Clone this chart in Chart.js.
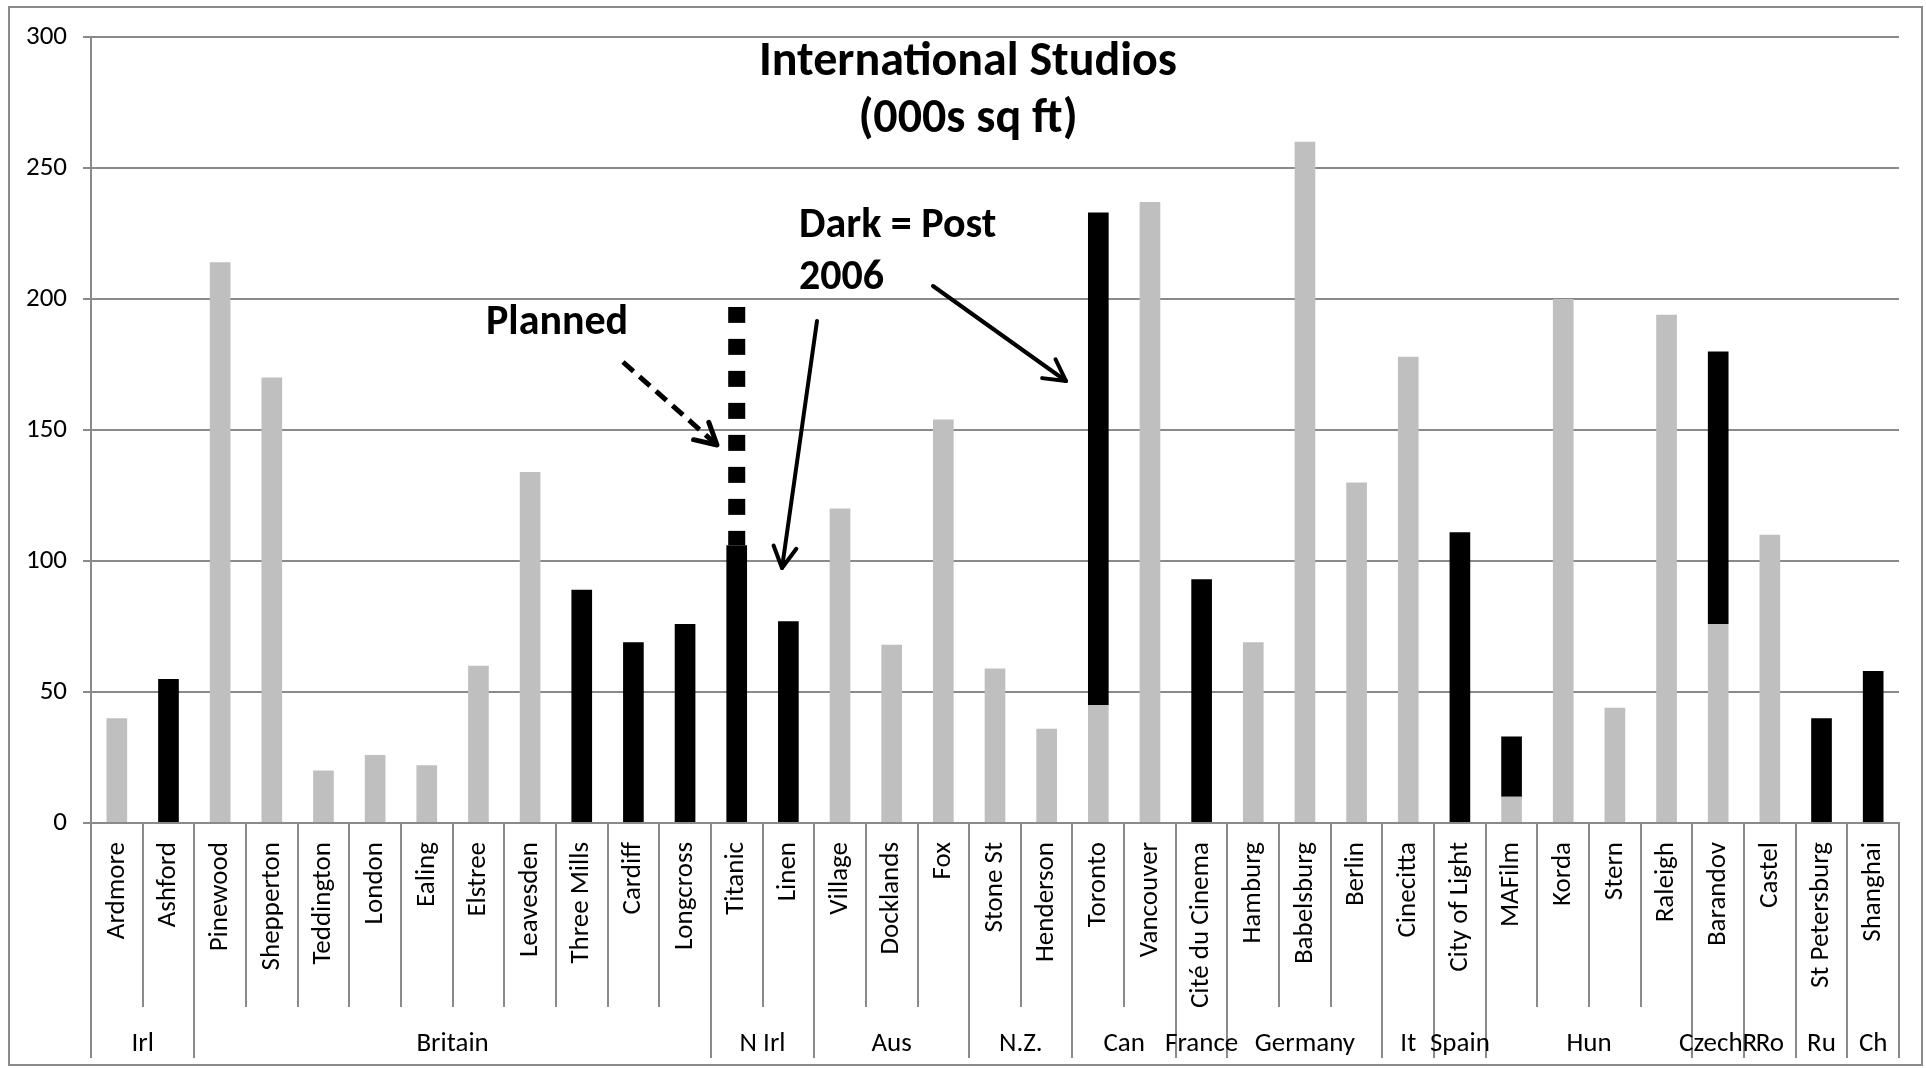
<!DOCTYPE html>
<html>
<head>
<meta charset="utf-8">
<script src="https://cdn.jsdelivr.net/npm/chart.js@4.4.1/dist/chart.umd.min.js"></script>
<style>
  html, body { margin: 0; padding: 0; background: #ffffff; }
  #wrap { position: relative; width: 1926px; height: 1068px; }
</style>
</head>
<body>
<div id="wrap"><canvas id="c" width="1926" height="1068"></canvas></div>
<script>
// ---------------- data ----------------
const categories = ["Ardmore","Ashford","Pinewood","Shepperton","Teddington","London","Ealing","Elstree","Leavesden","Three Mills","Cardiff","Longcross","Titanic","Linen","Village","Docklands","Fox","Stone St","Henderson","Toronto","Vancouver","Cité du Cinema","Hamburg","Babelsburg","Berlin","Cinecitta","City of Light","MAFilm","Korda","Stern","Raleigh","Barandov","Castel","St Petersburg","Shanghai"];
const groupNames = ["Irl","Britain","N Irl","Aus","N.Z.","Can","France","Germany","It","Spain","Hun","CzechR","Ro","Ru","Ch"];
const groupSizes = [2,10,2,3,2,2,1,3,1,1,4,1,1,1,1];
// grey = before 2006
const pre2006  = [40,null,214,170,20,26,22,60,134,null,null,null,null,null,120,68,154,59,36,45,237,null,69,260,130,178,null,10,200,44,194,76,110,null,null];
// dark = post 2006
const post2006 = [null,55,null,null,null,null,null,null,null,89,69,76,106,77,null,null,null,null,null,188,null,93,null,null,null,null,111,23,null,null,null,104,null,40,58];
// planned (dotted)
const planned  = [null,null,null,null,null,null,null,null,null,null,null,null,91,null,null,null,null,null,null,null,null,null,null,null,null,null,null,null,null,null,null,null,null,null,null];
const yTicks = [0,50,100,150,200,250,300];
const titleLines = ["International Studios","(000s sq ft)"];
const noteTexts = ["Planned","Dark = Post","2006"];

// ---------------- styling ----------------
const FONT = "Calibri, Carlito, Lato, sans-serif";
const GRID = "#8a8a8a";
const canvas = document.getElementById('c');
const ctx = canvas.getContext('2d');

const pc = document.createElement('canvas');
pc.width = 4; pc.height = 32;
const pctx = pc.getContext('2d');
pctx.fillStyle = '#000000';
pctx.fillRect(0, 0, 4, 16);
const plannedPattern = ctx.createPattern(pc, 'repeat');

function arrow(c, x1, y1, x2, y2, dashed) {
  c.save();
  c.strokeStyle = '#000';
  c.lineWidth = dashed ? 5 : 4;
  c.lineCap = dashed ? 'butt' : 'round';
  c.setLineDash(dashed ? [14, 8] : []);
  c.beginPath(); c.moveTo(x1, y1); c.lineTo(x2, y2); c.stroke();
  c.setLineDash([]);
  c.lineCap = 'round'; c.lineJoin = 'round';
  const a = Math.atan2(y2 - y1, x2 - x1);
  const L = 24, s = 0.5;
  c.beginPath();
  c.moveTo(x2 - L * Math.cos(a - s), y2 - L * Math.sin(a - s));
  c.lineTo(x2, y2);
  c.lineTo(x2 - L * Math.cos(a + s), y2 - L * Math.sin(a + s));
  c.stroke();
  c.restore();
}

const decorPlugin = {
  id: 'decor',
  beforeDatasetsDraw(chart) {
    const ys = chart.scales.y;
    const i = planned.findIndex(v => v != null);
    if (i >= 0) {
      const total = (pre2006[i] || 0) + (post2006[i] || 0) + planned[i];
      const top = ys.getPixelForValue(total);
      plannedPattern.setTransform(new DOMMatrix([1, 0, 0, 1, 0, top]));
    }
  },
  afterDraw(chart) {
    const c = chart.ctx;
    const xs = chart.scales.x;
    const n = categories.length;
    const w = (xs.right - xs.left) / n;
    const groupEnds = new Set([0]);
    let acc = 0;
    groupSizes.forEach(s => { acc += s; groupEnds.add(acc); });

    c.save();
    // outer chart border
    c.strokeStyle = GRID; c.lineWidth = 2;
    c.strokeRect(9, 7, 1913, 1058);

    // category / group separators
    c.lineWidth = 2; c.strokeStyle = GRID;
    for (let i = 0; i <= n; i++) {
      const x = Math.round(xs.left + i * w);
      const bottom = groupEnds.has(i) ? xs.top + 235 : xs.top + 184;
      c.beginPath(); c.moveTo(x, xs.top); c.lineTo(x, bottom); c.stroke();
    }
    // group labels
    c.fillStyle = '#000';
    c.font = '27px ' + FONT;
    c.textAlign = 'center'; c.textBaseline = 'alphabetic';
    let start = 0;
    groupNames.forEach((g, k) => {
      const cx = xs.left + (start + groupSizes[k] / 2) * w;
      c.fillText(g, cx, xs.top + 228);
      start += groupSizes[k];
    });

    // title
    c.font = 'bold 48px ' + FONT;
    c.fillText(titleLines[0], 968, 75);
    c.fillText(titleLines[1], 968, 132);

    // notes
    c.font = 'bold 42px ' + FONT;
    c.textAlign = 'left';
    c.fillText(noteTexts[0], 486, 334);
    c.fillText(noteTexts[1], 799, 237);
    c.fillText(noteTexts[2], 799, 289);

    arrow(c, 623, 362, 717, 445, true);
    arrow(c, 817, 321, 782, 568, false);
    arrow(c, 933, 286, 1066, 381, false);
    c.restore();
  }
};

new Chart(ctx, {
  type: 'bar',
  data: {
    labels: categories,
    datasets: [
      { label: 'Pre 2006', data: pre2006, backgroundColor: '#BFBFBF', barPercentage: 0.4, categoryPercentage: 1 },
      { label: 'Post 2006', data: post2006, backgroundColor: '#000000', barPercentage: 0.4, categoryPercentage: 1 },
      { label: 'Planned', data: planned, backgroundColor: plannedPattern, barPercentage: 0.33, categoryPercentage: 1 }
    ]
  },
  options: {
    responsive: false,
    animation: false,
    devicePixelRatio: 1,
    events: [],
    layout: { padding: { top: 37, right: 27, left: 0, bottom: 0 } },
    plugins: { legend: { display: false }, tooltip: { enabled: false }, title: { display: false } },
    scales: {
      x: {
        stacked: true,
        offset: true,
        grid: { display: false, drawTicks: false },
        border: { display: true, color: GRID, width: 2 },
        ticks: { autoSkip: false, minRotation: 90, maxRotation: 90, padding: 19, color: '#000', font: { family: FONT, size: 27 } },
        afterFit(s) { s.height = 245; }
      },
      y: {
        stacked: true,
        min: 0, max: 300,
        afterBuildTicks(s) { s.ticks = yTicks.map(v => ({ value: v })); },
        ticks: { padding: 16, color: '#000', font: { family: FONT, size: 27 } },
        grid: { color: GRID, lineWidth: 2, tickLength: 8, drawTicks: true },
        border: { color: GRID, width: 2 },
        afterFit(s) { s.width = 91; }
      }
    }
  },
  plugins: [decorPlugin]
});
</script>
</body>
</html>
